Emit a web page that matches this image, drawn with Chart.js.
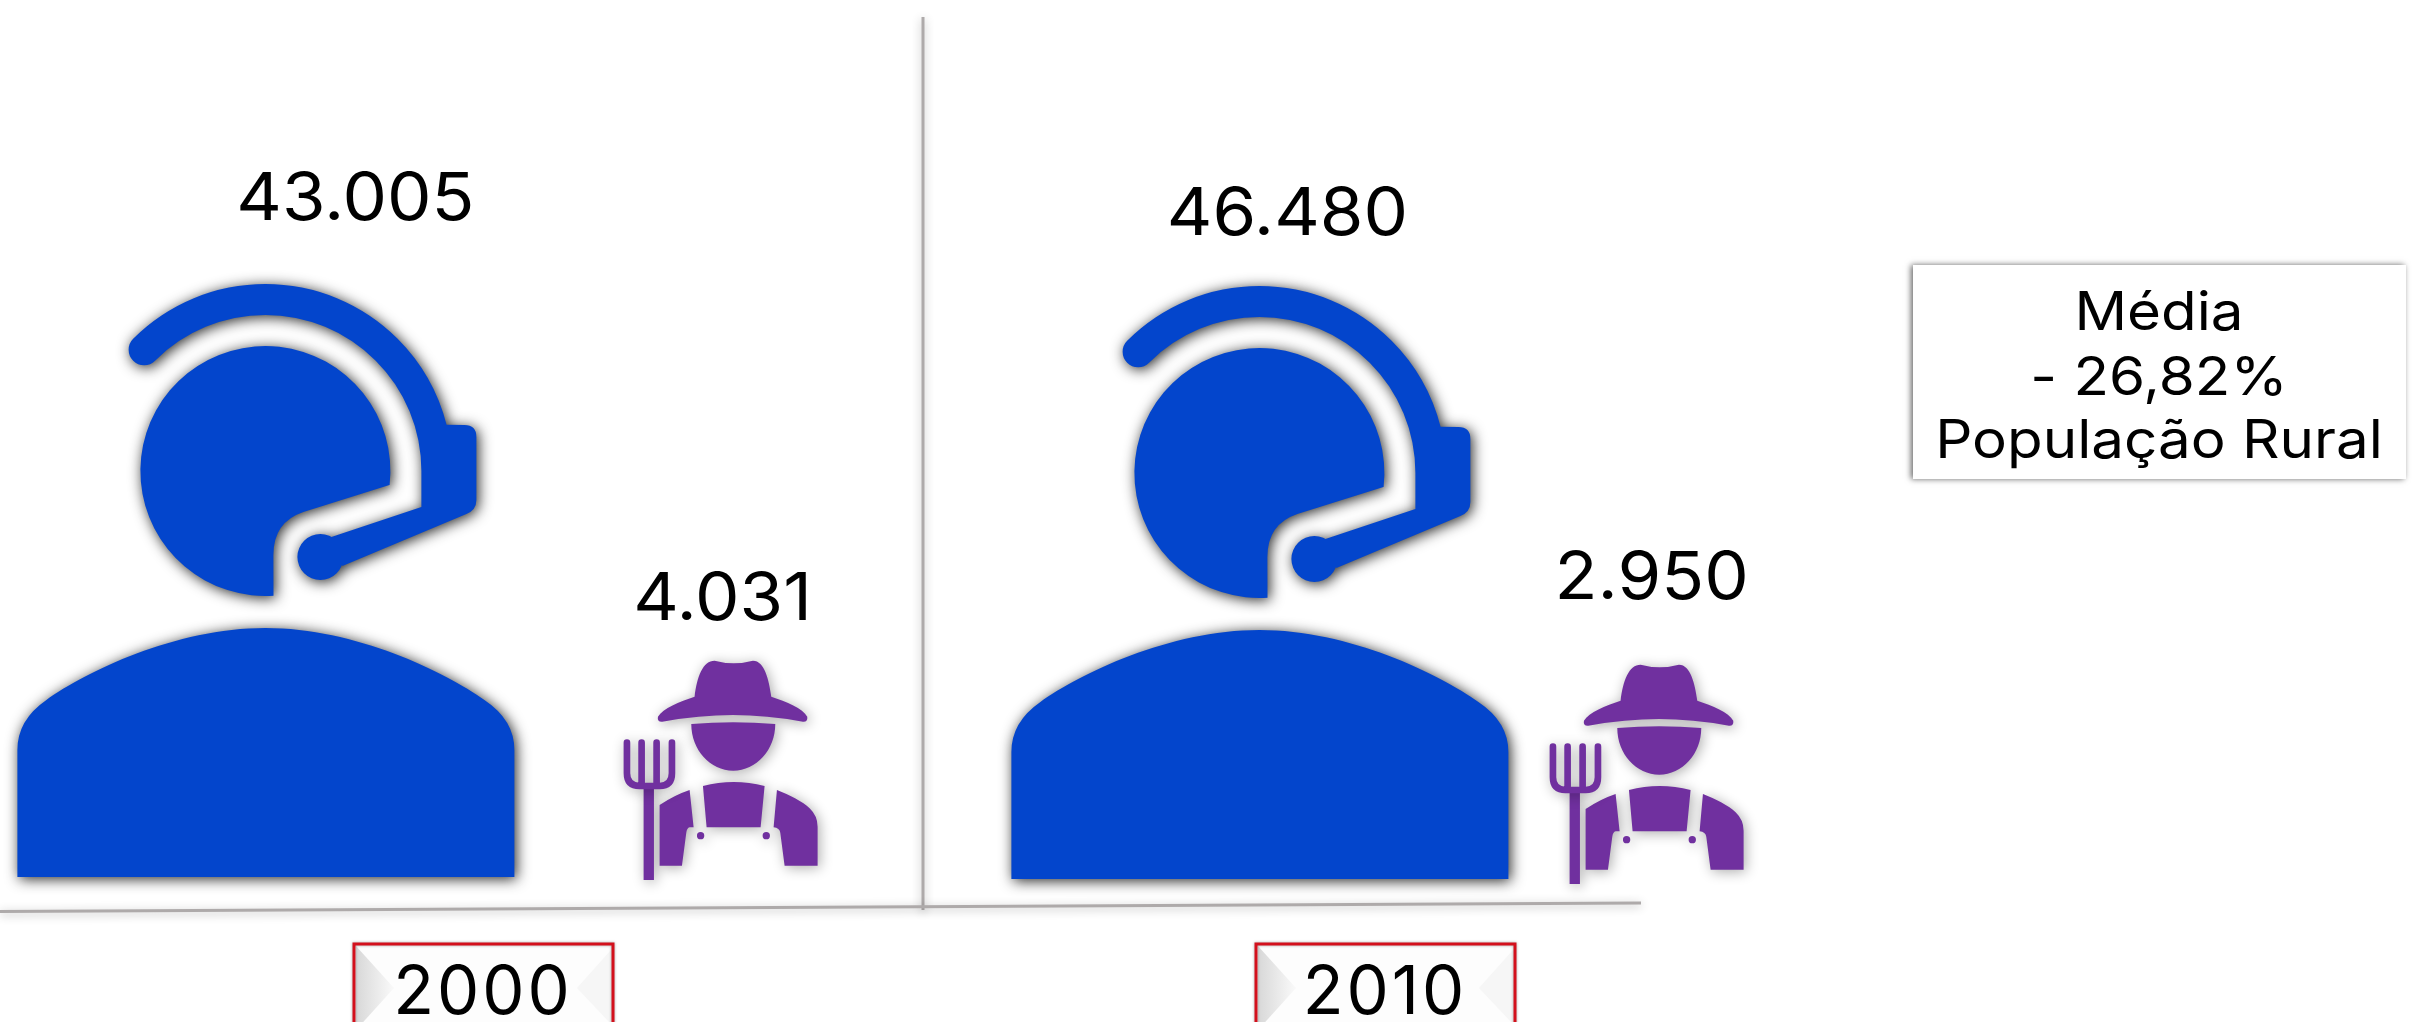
<!DOCTYPE html>
<html lang="pt-BR">
<head>
<meta charset="utf-8">
<title>População total e rural, 2000 e 2010</title>
<script src="https://cdn.jsdelivr.net/npm/chart.js@4/dist/chart.umd.min.js"></script>
<style>
    html, body { margin: 0; padding: 0; background: #fff; }
    canvas { display: block; }
</style>
</head>
<body>
<canvas id="chart" width="2412" height="1022"></canvas>
<script>
// Chart data
const years = ['2000', '2010'];
const totalPopulation = [43005, 46480];
const ruralPopulation = [4031, 2950];
const noteLines = ['Média', '- 26,82%', 'População Rural'];

const FONT = 'Inter, "DejaVu Sans", sans-serif';
const BLUE = '#0345cc';
const PURPLE = '#70309f';

// Headset person, traced around head centre (265, 471), feet on y = 877
function headsetPath() {
    const p = new Path2D();
    const a = Math.PI * 1.25;
    // head
    p.arc(265, 471, 125, 0.112, 1.506, true);
    p.lineTo(273, 555);
    p.quadraticCurveTo(273, 522, 303, 512);
    p.lineTo(389, 485);
    p.closePath();
    // headband and boom
    p.moveTo(265 + 187 * Math.cos(a), 471 + 187 * Math.sin(a));
    p.arc(265, 471, 187, a, -0.25);
    p.lineTo(464, 425);
    p.quadraticCurveTo(476, 425, 476, 437);
    p.lineTo(476, 500);
    p.quadraticCurveTo(476, 510, 466, 514);
    p.lineTo(342, 566);
    p.lineTo(331, 537);
    p.lineTo(421, 507);
    p.lineTo(421, 471);
    p.arc(265, 471, 156, 0, a, true);
    p.arc(265 + 171.5 * Math.cos(a), 471 + 171.5 * Math.sin(a), 15.5, Math.PI * 0.25, a);
    p.closePath();
    // mic
    p.moveTo(343, 557);
    p.arc(320, 557, 23, 0, Math.PI * 2);
    // body
    p.moveTo(17, 877);
    p.lineTo(17, 750);
    p.quadraticCurveTo(17, 720, 46, 700);
    p.bezierCurveTo(85, 672, 175, 628, 265, 628);
    p.bezierCurveTo(355, 628, 445, 672, 484, 700);
    p.quadraticCurveTo(514, 720, 514, 750);
    p.lineTo(514, 877);
    p.closePath();
    return p;
}

// Farmer, traced at 3x: centre x = 462, bottom of the fork on y = 1020
function farmerPath() {
    const p = new Path2D();
    // hat
    p.moveTo(345, 470);
    p.bezierCurveTo(352, 410, 370, 362, 405, 362);
    p.quadraticCurveTo(435, 370, 462, 370);
    p.quadraticCurveTo(490, 370, 520, 362);
    p.bezierCurveTo(555, 362, 568, 420, 575, 470);
    p.bezierCurveTo(620, 485, 670, 505, 683, 530);
    p.quadraticCurveTo(685, 546, 670, 545);
    p.quadraticCurveTo(560, 525, 460, 525);
    p.quadraticCurveTo(360, 525, 248, 545);
    p.quadraticCurveTo(232, 546, 235, 530);
    p.bezierCurveTo(250, 505, 300, 485, 345, 470);
    p.closePath();
    // face
    p.moveTo(335, 552);
    p.quadraticCurveTo(461, 542, 587, 552);
    p.bezierCurveTo(587, 630, 530, 692, 461, 692);
    p.bezierCurveTo(392, 692, 335, 630, 335, 552);
    p.closePath();
    // bib
    p.moveTo(370, 738);
    p.quadraticCurveTo(462, 714, 555, 738);
    p.lineTo(543, 862);
    p.lineTo(381, 862);
    p.closePath();
    // shoulders
    p.moveTo(330, 750);
    p.lineTo(342, 862);
    p.lineTo(330, 862);
    p.quadraticCurveTo(322, 864, 320, 878);
    p.lineTo(307, 977);
    p.lineTo(240, 977);
    p.lineTo(240, 795);
    p.quadraticCurveTo(285, 765, 330, 750);
    p.closePath();
    p.moveTo(592, 750);
    p.bezierCurveTo(630, 765, 670, 785, 690, 805);
    p.quadraticCurveTo(714, 828, 714, 860);
    p.lineTo(714, 977);
    p.lineTo(615, 977);
    p.lineTo(602, 878);
    p.quadraticCurveTo(600, 864, 582, 862);
    p.closePath();
    // buttons
    p.moveTo(374, 887);
    p.arc(363, 887, 11, 0, Math.PI * 2);
    p.moveTo(571, 887);
    p.arc(560, 887, 11, 0, Math.PI * 2);
    // fork handle
    p.rect(192, 740, 31, 280);
    return p;
}

function forkPath() {
    const p = new Path2D();
    p.moveTo(142, 608);
    p.lineTo(142, 700);
    p.quadraticCurveTo(142, 738, 180, 738);
    p.lineTo(240, 738);
    p.quadraticCurveTo(277, 738, 277, 700);
    p.lineTo(277, 608);
    p.moveTo(186, 608);
    p.lineTo(186, 738);
    p.moveTo(231, 608);
    p.lineTo(231, 738);
    return p;
}

const headset = headsetPath();
const farmer = farmerPath();
const fork = forkPath();

function drawHeadset(ctx, cx, base) {
    ctx.save();
    ctx.shadowColor = 'rgba(0,0,0,0.85)';
    ctx.shadowBlur = 14;
    ctx.shadowOffsetX = 2;
    ctx.shadowOffsetY = 2;
    ctx.translate(cx - 265, base - 877);
    ctx.fillStyle = BLUE;
    ctx.fill(headset);
    ctx.restore();
}

function drawFarmer(ctx, cx, base) {
    ctx.save();
    ctx.shadowColor = 'rgba(0,0,0,0.33)';
    ctx.shadowBlur = 13;
    ctx.shadowOffsetX = 2;
    ctx.shadowOffsetY = 2;
    ctx.translate(cx, base);
    ctx.scale(1 / 3, 1 / 3);
    ctx.translate(-462, -1020);
    ctx.fillStyle = PURPLE;
    ctx.strokeStyle = PURPLE;
    ctx.lineWidth = 20;
    ctx.lineCap = 'round';
    ctx.fill(farmer);
    ctx.stroke(fork);
    ctx.restore();
}

// Red framed box behind each year tick
function drawYearBox(ctx, cx) {
    const l = cx - 129, r = cx + 130, t = 944, b = 1030;
    ctx.save();
    ctx.fillStyle = '#fdfdfd';
    ctx.fillRect(l, t, r - l, b - t);
    const g = ctx.createLinearGradient(l, 0, l + 38, 0);
    g.addColorStop(0, '#d6d6d6');
    g.addColorStop(1, '#f8f8f8');
    ctx.fillStyle = g;
    ctx.beginPath();
    ctx.moveTo(l + 2, t + 2);
    ctx.lineTo(l + 40, t + 44);
    ctx.lineTo(l + 2, b);
    ctx.fill();
    ctx.fillStyle = '#f6f6f6';
    ctx.beginPath();
    ctx.moveTo(r - 2, b - 6);
    ctx.lineTo(r - 36, t + 44);
    ctx.lineTo(r - 2, t + 6);
    ctx.fill();
    ctx.shadowColor = 'rgba(0,0,0,0.35)';
    ctx.shadowBlur = 3;
    ctx.strokeStyle = '#d3101c';
    ctx.lineWidth = 3;
    ctx.strokeRect(l, t, r - l, b - t);
    ctx.restore();
}

function drawRule(ctx, x1, y1, x2, y2) {
    ctx.save();
    ctx.shadowColor = 'rgba(0,0,0,0.3)';
    ctx.shadowBlur = 10;
    ctx.shadowOffsetY = 2;
    ctx.strokeStyle = '#aeaaaa';
    ctx.lineWidth = 3;
    ctx.beginPath();
    ctx.moveTo(x1, y1);
    ctx.lineTo(x2, y2);
    ctx.stroke();
    ctx.restore();
}

// Wider text, the reference face runs broader than Inter
function wideText(ctx, text, x, y, stretch) {
    ctx.save();
    ctx.translate(x, y);
    ctx.scale(stretch, 1);
    ctx.fillText(text, 0, 0);
    ctx.restore();
}

// Icons are pictograms, not to scale: they follow the bars' x and the zero line
const placement = [
    { iconDx: [0, 92], iconDy: [-28, -26], labelDx: [90, 28], labelY: [200, 215] },
    { iconDx: [33, 57], iconDy: [-25, -21], labelDx: [-11, -8], labelY: [600, 579] }
];

const pictogramPlugin = {
    id: 'pictograms',
    beforeDraw(chart) {
        const { ctx, scales: { x } } = chart;
        ctx.fillStyle = '#fff';
        ctx.fillRect(0, 0, chart.width, chart.height);
        years.forEach((_, i) => drawYearBox(ctx, x.getPixelForValue(i)));
        ctx.letterSpacing = '3px';
    },
    afterDatasetsDraw(chart) {
        const { ctx, scales: { x, y } } = chart;
        const zero = y.getPixelForValue(0);
        ctx.letterSpacing = '0px';

        drawRule(ctx, x.getPixelForValue(0.5) - 11, 17, x.getPixelForValue(0.5) - 11, 910);
        drawRule(ctx, 0, zero + 6.5, 1641, zero - 2);

        chart.data.datasets.forEach((ds, d) => {
            const place = placement[d];
            chart.getDatasetMeta(d).data.forEach((bar, i) => {
                const cx = bar.x + place.iconDx[i];
                const base = zero + place.iconDy[i];
                if (d === 0) drawHeadset(ctx, cx, base);
                else drawFarmer(ctx, cx, base);

                ctx.save();
                ctx.font = '400 66px ' + FONT;
                ctx.fillStyle = '#000';
                ctx.textAlign = 'center';
                ctx.textBaseline = 'middle';
                wideText(ctx, ds.data[i].toLocaleString('pt-BR'), cx + place.labelDx[i], place.labelY[i], 1.07);
                ctx.restore();
            });
        });

        // Note box on the right
        ctx.save();
        ctx.shadowColor = 'rgba(0,0,0,0.6)';
        ctx.shadowBlur = 6;
        ctx.shadowOffsetX = -2;
        ctx.fillStyle = '#fff';
        ctx.fillRect(1913, 265, 493, 214);
        ctx.restore();

        ctx.save();
        ctx.font = '400 53px ' + FONT;
        ctx.fillStyle = '#000';
        ctx.textAlign = 'center';
        ctx.textBaseline = 'alphabetic';
        const baselines = [330, 395, 458];
        noteLines.forEach((line, i) => wideText(ctx, line, 2159, baselines[i], 1.1));
        ctx.restore();
    }
};

new Chart(document.getElementById('chart'), {
    type: 'bar',
    data: {
        labels: years,
        datasets: [
            { label: 'População total', data: totalPopulation, backgroundColor: 'transparent' },
            { label: 'População rural', data: ruralPopulation, backgroundColor: 'transparent' }
        ]
    },
    options: {
        responsive: false,
        animation: false,
        layout: { padding: { left: 32, right: 576, top: 0, bottom: 2 } },
        datasets: { bar: { categoryPercentage: 0.965, barPercentage: 1 } },
        scales: {
            x: {
                grid: { display: false },
                border: { display: false },
                afterFit(scale) { scale.height = 115; },
                ticks: {
                    color: '#000',
                    padding: 47,
                    maxRotation: 0,
                    font: { family: FONT, size: 67, lineHeight: 1 }
                }
            },
            y: { display: false, min: 0, max: 50000 }
        },
        plugins: {
            legend: { display: false },
            tooltip: { enabled: false }
        }
    },
    plugins: [pictogramPlugin]
});
</script>
</body>
</html>
